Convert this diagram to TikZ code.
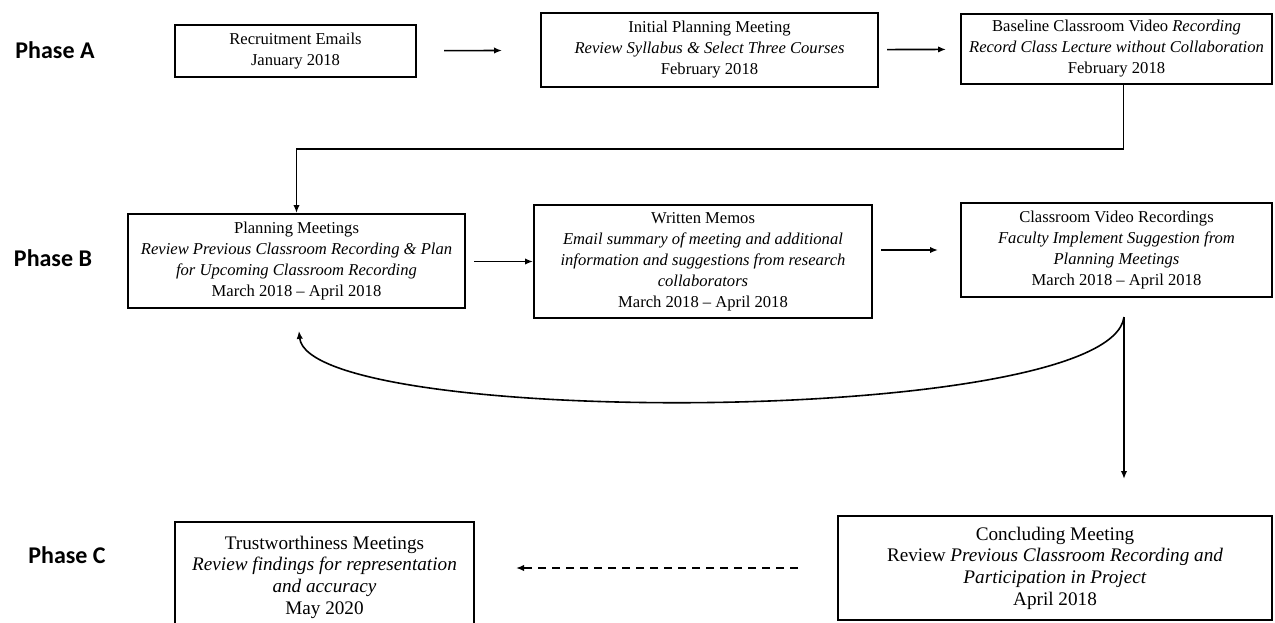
\documentclass[tikz,border=0pt]{standalone}
\usepackage{fontspec}
\setmainfont{Liberation Serif}
\newfontfamily\phasefont{Carlito}
\usetikzlibrary{arrows.meta}

\begin{document}
\begin{tikzpicture}[x=0.5pt,y=-0.5pt,
  stage/.style={draw,line width=1pt,align=center,inner sep=1pt,font=\fontsize{8.3}{10.5}\selectfont},
  bigstage/.style={stage,font=\fontsize{9.6}{10.8}\selectfont},
  phase/.style={font=\phasefont\bfseries\fontsize{12}{14}\selectfont},
  flow/.style={draw,thick,-{Latex[length=4pt,width=3.2pt]}}]
\clip (0,0) rectangle (1275,622);

\node[phase] (phaseA) at (55,50) {Phase A};
\node[phase] (phaseB) at (53,258) {Phase B};
\node[phase] (phaseC) at (67,555) {Phase C};

\node[stage,minimum width=120.5pt,minimum height=26pt] (recruit) at (295.5,51) {Recruitment Emails\\January 2018};
\node[stage,minimum width=168.5pt,minimum height=37pt] (initial) at (709.5,50) {Initial Planning Meeting\\\textit{Review Syllabus \& Select Three Courses}\\February 2018};
\node[stage,minimum width=155.5pt,minimum height=35pt] (baseline) at (1116.5,49) {Baseline Classroom Video \textit{Recording}\\\textit{Record Class Lecture without Collaboration}\\February 2018};

\node[stage,minimum width=168.5pt,minimum height=47pt] (planning) at (296.5,261) {Planning Meetings\\\textit{Review Previous Classroom Recording \& Plan}\\\textit{for Upcoming Classroom Recording}\\March 2018 -- April 2018};
\node[stage,minimum width=169pt,minimum height=56.5pt] (memos) at (703,261.5) {Written Memos\\\textit{Email summary of meeting and additional}\\\textit{information and suggestions from research}\\\textit{collaborators}\\March 2018 -- April 2018};
\node[stage,minimum width=155.5pt,minimum height=47pt] (videos) at (1116.5,250) {Classroom Video Recordings\\\textit{Faculty Implement Suggestion from}\\\textit{Planning Meetings}\\March 2018 -- April 2018};

\node[bigstage,minimum width=149.5pt,minimum height=55pt] (trust) at (324.5,577) {Trustworthiness Meetings\\\textit{Review findings for representation}\\\textit{and accuracy}\\May 2020};
\node[bigstage,minimum width=217pt,minimum height=52pt] (concl) at (1055,568) {Concluding Meeting\\Review \textit{Previous Classroom Recording and}\\\textit{Participation in Project}\\April 2018};

\coordinate (turn) at (700,149);
\coordinate (fork) at (1124,317);

\path[flow,shorten <=13.5pt,shorten >=19pt] (recruit) -- (initial);
\path[flow,shorten <=4pt,shorten >=7pt] (initial) -- (baseline);
\path[flow] ([xshift=3.5pt]baseline.south) |- (turn) -| (planning.north);
\path[flow,shorten <=4pt] (planning.east |- memos.west) -- (memos.west);
\path[flow,shorten <=4pt,shorten >=11pt] (memos.east |- videos.west) -- (videos.west);
\path[flow,shorten >=11pt] (fork) .. controls +(-14,110) and +(13,119) .. (planning.south);
\path[flow,shorten >=18pt] (fork) -- (fork |- concl.north);
\path[flow,dashed,dash pattern=on 4pt off 3pt,shorten <=19.5pt,shorten >=20.5pt] (concl.west) -- (concl.west -| trust.east);
\end{tikzpicture}
\end{document}
